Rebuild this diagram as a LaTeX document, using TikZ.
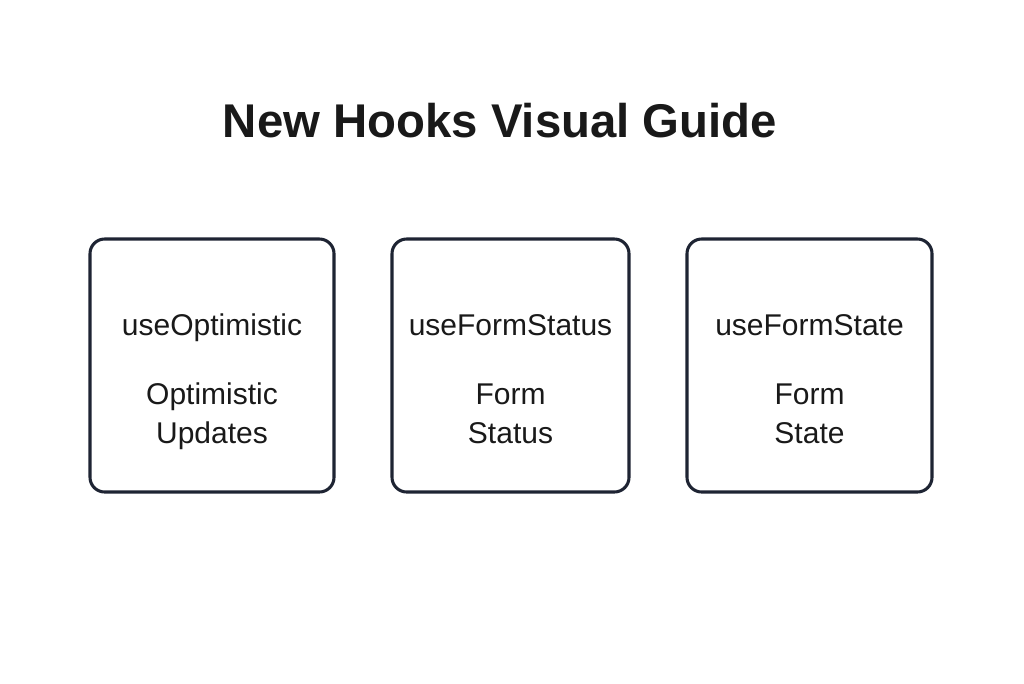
\documentclass[tikz,border=0pt]{standalone}
\usepackage{fontspec}
\setmainfont{Liberation Sans}
\definecolor{ink}{HTML}{1E2433}
\begin{document}
\begin{tikzpicture}[x=0.75pt,y=-0.75pt,
  hook/.style={draw=ink, line width=2.3pt, rounded corners=11pt},
  lab/.style={font=\fontsize{22.5}{29}\selectfont, text=black!90, align=center, anchor=base, inner sep=0pt}]
\useasboundingbox (0,0) rectangle (1024,683);
\node[font=\fontsize{35.5}{40}\selectfont\bfseries, text=black!90, anchor=base] (title) at (500,137) {New Hooks Visual Guide};
\foreach \n/\xa/\xb/\h/\da/\db in {a/90/334/useOptimistic/Optimistic/Updates, b/392/629/useFormStatus/Form/Status, c/687/932/useFormState/Form/State}{
  \draw[hook] (\xa,239) rectangle (\xb,492);
  \node[lab] (\n h) at ({(\xa+\xb)/2},335) {\h};
  \node[lab] (\n d) at ({(\xa+\xb)/2},404) {\da};
  \node[lab] (\n e) at ({(\xa+\xb)/2},443) {\db};
}
\end{tikzpicture}
\end{document}
